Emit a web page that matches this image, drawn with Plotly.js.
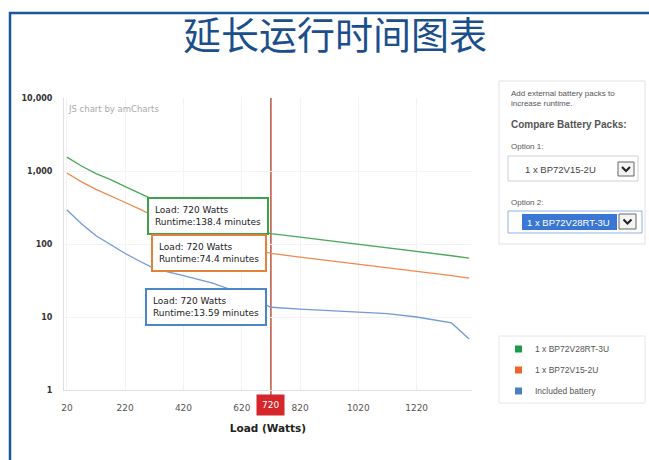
<!DOCTYPE html>
<html>
<head>
<meta charset="utf-8">
<script src="https://cdn.plot.ly/plotly-3.0.1.min.js"></script>
<style>
  html, body { margin: 0; padding: 0; background: #fff; }
  #chart { width: 649px; height: 460px; }
</style>
</head>
<body>
<div id="chart"></div>
<script>
// ---- data ----
const titleText = '延长运行时间图表';
const loads = [20, 70, 120, 170, 220, 270, 320, 420, 520, 620, 720, 820, 920, 1020, 1120, 1220, 1340, 1400];
const seriesNames = ['1 x BP72V28RT-3U', '1 x BP72V15-2U', 'Included battery'];
const runtimeOption2 = [1550, 1170, 920, 760, 610, 490, 400, 290, 218, 170, 138.4, 124, 111, 100, 90, 80, 69, 64];
const runtimeOption1 = [939, 710, 560, 460, 370, 300, 240, 170, 125, 95, 74.4, 66, 59, 53, 48, 43, 37, 34];
const runtimeIncluded = [292, 190, 130, 98, 74, 58, 46, 37, 29, 21, 13.59, 12.8, 12.2, 11.7, 11.1, 10.0, 8.3, 5.0];
const selectedLoad = 720;
const selectedRuntimes = [138.4, 74.4, 13.59];
const xTickVals = [20, 220, 420, 620, 820, 1020, 1220];
const yTickVals = [1, 10, 100, 1000, 10000];
const yTickText = ['1', '10', '100', '1,000', '10,000'];
const option1Label = '1 x BP72V15-2U';
const option2Label = '1 x BP72V28RT-3U';

// ---- styling ----
const lineColors = ['#4aa85a', '#ee8a4e', '#6f9bd3'];
const boxColors = ['#3ea24c', '#e6813c', '#4a86c8'];
const legendColors = ['#1f9a48', '#f0632a', '#4a7fc1'];
const L = 64, R = 472, T = 98, B = 390;
const px = X => (X - L) / (R - L);
const py = Y => (B - Y) / (B - T);

const seriesData = [runtimeOption2, runtimeOption1, runtimeIncluded];
const traces = [2, 1, 0].map(i => ({
  type: 'scatter', mode: 'lines', x: loads, y: seriesData[i], name: seriesNames[i],
  line: { color: lineColors[i], width: 1.3 }, hoverinfo: 'skip', showlegend: false
}));

const annFont = { family: 'DejaVu Sans', size: 9, color: '#222' };
const annotations = [];
// tooltip boxes
const boxCfg = [
  { yanchor: 'bottom', yshift: -1, xshift: -2 },
  { yanchor: 'middle', yshift: 0, xshift: -4 },
  { yanchor: 'middle', yshift: 0, xshift: -4 }
];
selectedRuntimes.forEach((v, i) => {
  annotations.push({
    x: selectedLoad, y: Math.log10(v), xref: 'x', yref: 'y',
    text: 'Load: ' + selectedLoad + ' Watts<br>Runtime:' + v + ' minutes',
    showarrow: false, xanchor: 'right', yanchor: boxCfg[i].yanchor,
    xshift: boxCfg[i].xshift, yshift: boxCfg[i].yshift,
    align: 'left', font: annFont, bgcolor: '#ffffff',
    bordercolor: boxColors[i], borderwidth: 2, borderpad: 6
  });
});
// selected x label
annotations.push({
  x: selectedLoad, xref: 'x', y: py(405), yref: 'paper', text: String(selectedLoad),
  showarrow: false, xanchor: 'center', yanchor: 'middle',
  font: { family: 'DejaVu Sans', size: 9, color: '#ffffff' },
  bgcolor: '#d5262c', borderpad: 5
});
// watermark
annotations.push({
  x: px(66), y: py(109), xref: 'paper', yref: 'paper', text: 'JS chart by amCharts',
  showarrow: false, xanchor: 'left', yanchor: 'middle',
  font: { family: 'DejaVu Sans', size: 8.5, color: '#aaaaaa' }
});
// right panel texts
const pText = (X, Y, t, size, color, extra) => Object.assign({
  x: px(X), y: py(Y), xref: 'paper', yref: 'paper', text: t, showarrow: false,
  xanchor: 'left', yanchor: 'middle',
  font: { family: 'Liberation Sans', size: size, color: color }
}, extra || {});
annotations.push(pText(509, 93, 'Add external battery packs to', 8, '#555'));
annotations.push(pText(509, 104, 'increase runtime.', 8, '#555'));
annotations.push(pText(509, 124, '<b>Compare Battery Packs:</b>', 10, '#555'));
annotations.push(pText(509, 146, 'Option 1:', 8, '#555'));
annotations.push(pText(523, 169, option1Label, 9.5, '#444'));
annotations.push(pText(509, 202, 'Option 2:', 8, '#555'));
annotations.push(pText(525, 222, option2Label, 9.5, '#ffffff'));
// legend items
const legendY = [349, 370, 391];
seriesNames.forEach((n, i) => {
  annotations.push(pText(533, legendY[i], n, 8.5, '#555'));
});

const shapes = [];
// outer frame
shapes.push({ type: 'rect', xref: 'paper', yref: 'paper', x0: px(10), x1: px(700), y0: py(13), y1: py(520),
  line: { color: '#17599c', width: 2.5 }, fillcolor: 'rgba(0,0,0,0)', layer: 'above' });
// vertical selection line
shapes.push({ type: 'line', xref: 'x', yref: 'paper', x0: selectedLoad, x1: selectedLoad, y0: py(396), y1: 1,
  line: { color: '#b9553d', width: 1.5 }, layer: 'below' });
// right panel
shapes.push({ type: 'rect', xref: 'paper', yref: 'paper', x0: px(499), x1: px(645), y0: py(81), y1: py(244),
  line: { color: '#e2e2e2', width: 1 } });
// dropdown 1
shapes.push({ type: 'rect', xref: 'paper', yref: 'paper', x0: px(508), x1: px(638), y0: py(156), y1: py(181),
  line: { color: '#d0d0d0', width: 1 }, fillcolor: '#ffffff' });
shapes.push({ type: 'rect', xref: 'paper', yref: 'paper', x0: px(618), x1: px(634), y0: py(162), y1: py(176),
  line: { color: '#666', width: 1 }, fillcolor: '#f4f4f4' });
// dropdown 2
shapes.push({ type: 'rect', xref: 'paper', yref: 'paper', x0: px(508), x1: px(642), y0: py(211), y1: py(233),
  line: { color: '#8fb3e3', width: 1 }, fillcolor: '#ffffff' });
shapes.push({ type: 'rect', xref: 'paper', yref: 'paper', x0: px(522), x1: px(617), y0: py(214), y1: py(230),
  line: { width: 0 }, fillcolor: '#3a77d2' });
shapes.push({ type: 'rect', xref: 'paper', yref: 'paper', x0: px(619), x1: px(636), y0: py(214), y1: py(229),
  line: { color: '#666', width: 1 }, fillcolor: '#f4f4f4' });
// chevrons
[[626, 169], [627.5, 221.5]].forEach(([cx, cy]) => {
  shapes.push({ type: 'path', xref: 'paper', yref: 'paper',
    path: 'M ' + px(cx - 4) + ' ' + py(cy - 2) + ' L ' + px(cx) + ' ' + py(cy + 2) + ' L ' + px(cx + 4) + ' ' + py(cy - 2),
    line: { color: '#222', width: 2 } });
});
// legend panel
shapes.push({ type: 'rect', xref: 'paper', yref: 'paper', x0: px(499), x1: px(645), y0: py(336), y1: py(403),
  line: { color: '#e6e6e6', width: 1 } });
legendY.forEach((yy, i) => {
  shapes.push({ type: 'rect', xref: 'paper', yref: 'paper', x0: px(515), x1: px(522), y0: py(yy - 3.5), y1: py(yy + 3.5),
    line: { width: 0 }, fillcolor: legendColors[i] });
});

const layout = {
  width: 649, height: 460,
  margin: { l: L, r: 649 - R, t: T, b: 460 - B, pad: 0 },
  paper_bgcolor: '#ffffff', plot_bgcolor: '#ffffff',
  showlegend: false,
  title: {
    text: titleText, xref: 'container', yref: 'container', x: 335 / 649, y: 1 - 36 / 460,
    xanchor: 'center', yanchor: 'middle',
    font: { family: 'Noto Sans CJK SC', size: 38, color: '#1b4f8c' }
  },
  xaxis: {
    range: [10, 1410], tickvals: xTickVals, ticktext: xTickVals.map(String),
    showgrid: true, gridcolor: '#f3f3f3', zeroline: false,
    showline: true, linecolor: '#e0e0e0', linewidth: 1, ticks: '',
    ticklabelstandoff: 9,
    tickfont: { family: 'DejaVu Sans', size: 9, color: '#555' },
    title: { text: '<b>Load (Watts)</b>', standoff: 12, font: { family: 'DejaVu Sans', size: 10.5, color: '#222' } },
    fixedrange: true
  },
  yaxis: {
    type: 'log', range: [0, 4], tickvals: yTickVals, ticktext: yTickText.map(t => '<b>' + t + '</b>'),
    showgrid: true, gridcolor: '#f3f3f3', zeroline: false,
    showline: true, linecolor: '#e0e0e0', linewidth: 1, ticks: '',
    ticklabelstandoff: 9,
    tickfont: { family: 'DejaVu Sans', size: 8, color: '#333' },
    fixedrange: true
  },
  annotations: annotations,
  shapes: shapes
};

Plotly.newPlot('chart', traces, layout, { displayModeBar: false, staticPlot: true });
</script>
</body>
</html>
